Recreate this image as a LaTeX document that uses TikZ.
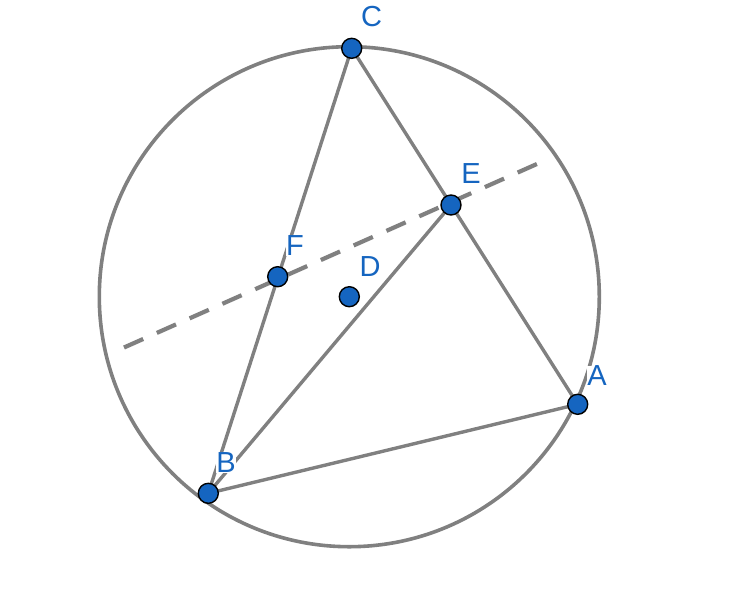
\documentclass[tikz,border=0pt]{standalone}
\usepackage{fontspec}
\setmainfont{Liberation Sans}
\definecolor{lg}{HTML}{808080}
\definecolor{pb}{HTML}{1565C0}
\begin{document}
\begin{tikzpicture}[x=1pt,y=-1pt,
  seg/.style={draw=lg,line width=3.4pt},
  pt/.style={circle,fill=pb,draw=black,line width=1.4pt,minimum size=20pt,inner sep=0pt},
  lab/.style={text=pb,font=\fontsize{29}{29}\selectfont,inner sep=0.5pt,fill=white}]
\useasboundingbox (0,0) rectangle (744,598);
\coordinate (Dc) at (349.3,296.7);
\coordinate (Ac) at (577.7,404.3);
\coordinate (Bc) at (208.3,493.3);
\coordinate (Cc) at (351.7,48.3);
\coordinate (Ec) at (451,205);
\coordinate (Fc) at (277.7,276.7);
\coordinate (L1) at (124,347.5);
\coordinate (L2) at (538,163.5);
\draw[lg,line width=3.6pt] (Dc) circle[radius=250];
\draw[seg] (Bc) -- (Cc) -- (Ac) -- (Bc) -- (Ec);
\draw[lg,line width=4.2pt,dash pattern=on 21pt off 14.9pt] (L1) -- (L2);
\node[pt] (A) at (Ac) {};
\node[pt] (B) at (Bc) {};
\node[pt] (C) at (Cc) {};
\node[pt] (D) at (Dc) {};
\node[pt] (E) at (Ec) {};
\node[pt] (F) at (Fc) {};
\node[lab] at (371.5,17) {C};
\node[lab] at (471,174) {E};
\node[lab] at (295,246) {F};
\node[lab] at (370,266.5) {D};
\node[lab] at (597,376) {A};
\node[lab] at (226,462.5) {B};
\end{tikzpicture}
\end{document}
